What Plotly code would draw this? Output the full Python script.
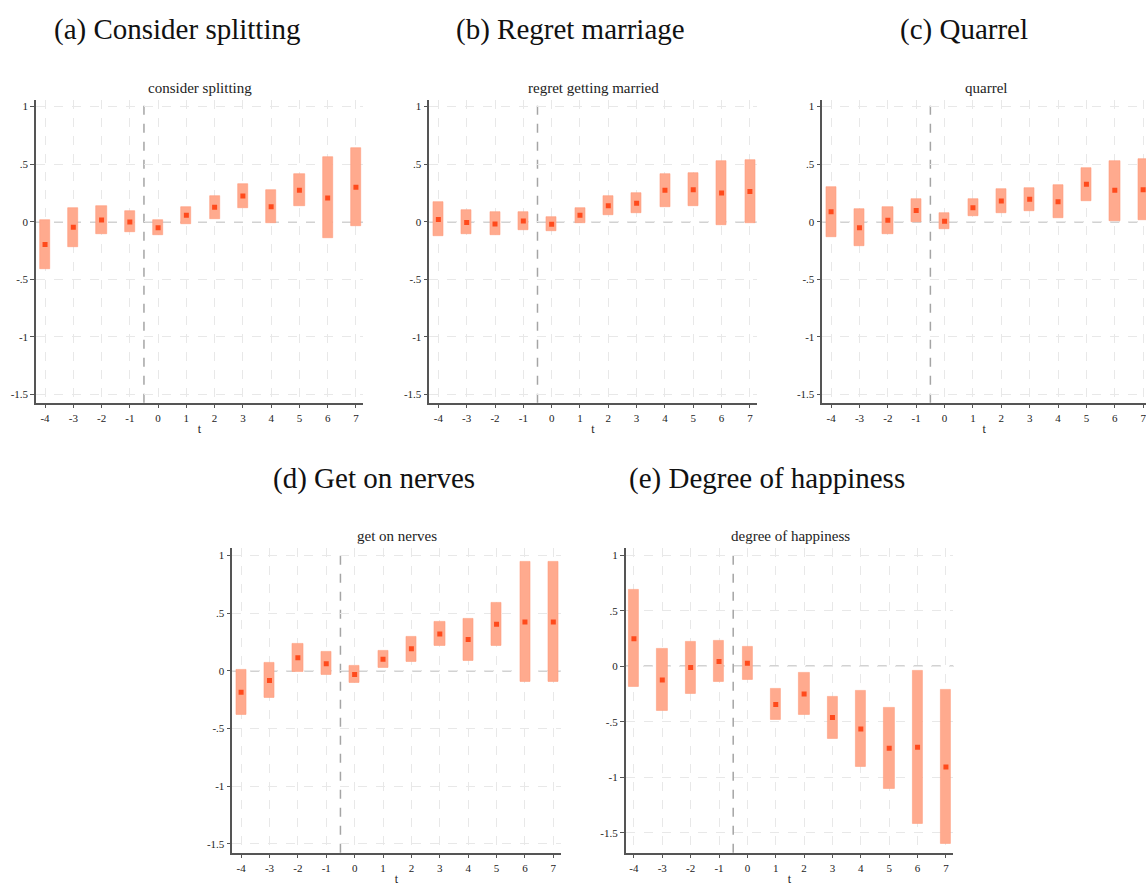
import plotly.graph_objects as go

t = [-4, -3, -2, -1, 0, 1, 2, 3, 4, 5, 6, 7]

# (a) consider splitting
a_est = [-0.197, -0.049, 0.014, -0.003, -0.052, 0.055, 0.125, 0.223, 0.130, 0.272, 0.206, 0.299]
a_lo = [-0.414, -0.217, -0.107, -0.093, -0.119, -0.023, 0.020, 0.122, -0.014, 0.133, -0.142, -0.038]
a_hi = [0.015, 0.122, 0.136, 0.093, 0.014, 0.128, 0.226, 0.330, 0.275, 0.414, 0.557, 0.635]

# (b) regret getting married
b_est = [0.020, -0.006, -0.020, 0.006, -0.023, 0.055, 0.139, 0.159, 0.272, 0.278, 0.249, 0.261]
b_lo = [-0.125, -0.110, -0.116, -0.070, -0.078, -0.014, 0.055, 0.072, 0.130, 0.139, -0.026, -0.012]
b_hi = [0.168, 0.101, 0.081, 0.084, 0.041, 0.119, 0.223, 0.249, 0.412, 0.420, 0.525, 0.536]

# (c) quarrel
c_est = [0.087, -0.052, 0.012, 0.096, 0.003, 0.122, 0.180, 0.194, 0.174, 0.325, 0.272, 0.278]
c_lo = [-0.130, -0.214, -0.104, 0.000, -0.064, 0.049, 0.075, 0.096, 0.035, 0.180, 0.006, 0.014]
c_hi = [0.304, 0.113, 0.130, 0.197, 0.072, 0.194, 0.287, 0.293, 0.319, 0.470, 0.530, 0.542]

# (d) get on nerves
d_est = [-0.186, -0.084, 0.113, 0.061, -0.032, 0.099, 0.191, 0.319, 0.270, 0.403, 0.423, 0.423]
d_lo = [-0.380, -0.238, -0.006, -0.038, -0.101, 0.023, 0.081, 0.214, 0.087, 0.220, -0.093, -0.093]
d_hi = [0.012, 0.070, 0.238, 0.162, 0.041, 0.174, 0.299, 0.426, 0.455, 0.586, 0.945, 0.945]

# (e) degree of happiness
e_est = [0.249, -0.123, -0.012, 0.042, 0.027, -0.345, -0.249, -0.462, -0.565, -0.739, -0.730, -0.907]
e_lo = [-0.186, -0.396, -0.243, -0.141, -0.117, -0.480, -0.435, -0.655, -0.907, -1.102, -1.420, -1.598]
e_hi = [0.691, 0.156, 0.222, 0.228, 0.174, -0.204, -0.057, -0.270, -0.216, -0.375, -0.036, -0.210]

big_titles = ["(a) Consider splitting", "(b) Regret marriage", "(c) Quarrel",
              "(d) Get on nerves", "(e) Degree of happiness"]
sub_titles = ["consider splitting", "regret getting married", "quarrel",
              "get on nerves", "degree of happiness"]
y_tickvals = [1, 0.5, 0, -0.5, -1, -1.5]
y_ticktext = ["1", ".5", "0", "-.5", "-1", "-1.5"]
x_ticktext = ["-4", "-3", "-2", "-1", "0", "1", "2", "3", "4", "5", "6", "7"]

W, H = 1146, 891
FONT = "Liberation Serif"
panels = [
    dict(est=a_est, lo=a_lo, hi=a_hi, xd=(36, 363), yd=(100, 402.7), xr=(-4.32, 7.25), yr=(-1.570, 1.0555), bt=(177, 30), sx=200),
    dict(est=b_est, lo=b_lo, hi=b_hi, xd=(429.3, 756.7), yd=(100, 402.7), xr=(-4.32, 7.24), yr=(-1.570, 1.0555), bt=(570, 30), sx=593),
    dict(est=c_est, lo=c_lo, hi=c_hi, xd=(822.3, 1146), yd=(100, 402.7), xr=(-4.31, 7.10), yr=(-1.570, 1.0555), bt=(964, 30), sx=986),
    dict(est=d_est, lo=d_lo, hi=d_hi, xd=(232.3, 560.7), yd=(547.7, 852.7), xr=(-4.31, 7.26), yr=(-1.578, 1.067), bt=(374, 478), sx=397),
    dict(est=e_est, lo=e_lo, hi=e_hi, xd=(625.7, 953.3), yd=(547.7, 852.7), xr=(-4.29, 7.26), yr=(-1.679, 1.068), bt=(767, 478), sx=790),
]

fig = go.Figure()
layout = dict(width=W, height=H, margin=dict(l=0, r=0, t=0, b=0, autoexpand=False),
              paper_bgcolor="white", plot_bgcolor="white", showlegend=False,
              font=dict(family=FONT, color="#222"),
              annotations=[], shapes=[], bargap=0)

def px_x(v):
    return v / W

def px_y(v):
    return 1 - v / H

for i, p in enumerate(panels):
    n = "" if i == 0 else str(i + 1)
    xa, ya = "x" + n, "y" + n
    fig.add_trace(go.Bar(x=t, y=[h - l for h, l in zip(p["hi"], p["lo"])], base=p["lo"],
                         width=0.36, marker=dict(color="#FFAA8E", line=dict(width=0.6, color="#FF9C7C")),
                         xaxis=xa, yaxis=ya, hoverinfo="skip", cliponaxis=True))
    fig.add_trace(go.Scatter(x=t, y=p["est"], mode="markers",
                             marker=dict(symbol="square", size=5, color="#FF4A1C"),
                             xaxis=xa, yaxis=ya))
    xd = [px_x(p["xd"][0]), min(px_x(p["xd"][1]), 1.0)]
    yd = [px_y(p["yd"][1]), px_y(p["yd"][0])]
    layout["xaxis" + n] = dict(domain=xd, anchor=ya, range=list(p["xr"]), tickvals=t, ticktext=x_ticktext,
                               showgrid=True, gridcolor="#e8e8e8", griddash="dash", gridwidth=1,
                               zeroline=False, showline=True, linecolor="#555", linewidth=1.5,
                               ticks="outside", ticklen=4, tickcolor="#555",
                               tickfont=dict(size=11, family=FONT), ticklabeloverflow="allow",
                               title=dict(text="t", font=dict(size=12, family=FONT), standoff=2))
    layout["yaxis" + n] = dict(domain=yd, anchor=xa, range=list(p["yr"]), tickvals=y_tickvals, ticktext=y_ticktext,
                               showgrid=True, gridcolor="#e8e8e8", griddash="dash", gridwidth=1,
                               zeroline=False, showline=True, linecolor="#555", linewidth=1.5,
                               ticks="outside", ticklen=4, tickcolor="#555",
                               tickfont=dict(size=11, family=FONT))
    layout["shapes"].append(dict(type="line", xref=xa + " domain", yref=ya, x0=0, x1=1, y0=0, y1=0,
                                 line=dict(color="#a5a5a5", width=1.5, dash="dash"), layer="below"))
    layout["shapes"].append(dict(type="line", xref=xa, yref=ya + " domain", x0=-0.5, x1=-0.5, y0=0, y1=1,
                                 line=dict(color="#a5a5a5", width=1.5, dash="dash"), layer="below"))
    layout["annotations"].append(dict(text=sub_titles[i], x=px_x(p["sx"]), y=px_y(p["yd"][0] - 12),
                                      xref="paper", yref="paper", showarrow=False,
                                      xanchor="center", yanchor="middle", font=dict(size=15, family=FONT)))
    layout["annotations"].append(dict(text=big_titles[i], x=px_x(p["bt"][0]), y=px_y(p["bt"][1]),
                                      xref="paper", yref="paper", showarrow=False,
                                      xanchor="center", yanchor="middle", font=dict(size=29, color="#111", family=FONT)))

fig.update_layout(**layout)
fig.write_html("out.html", config={"displayModeBar": False},
               post_script="document.body.style.margin='0';document.body.style.overflow='hidden';")
